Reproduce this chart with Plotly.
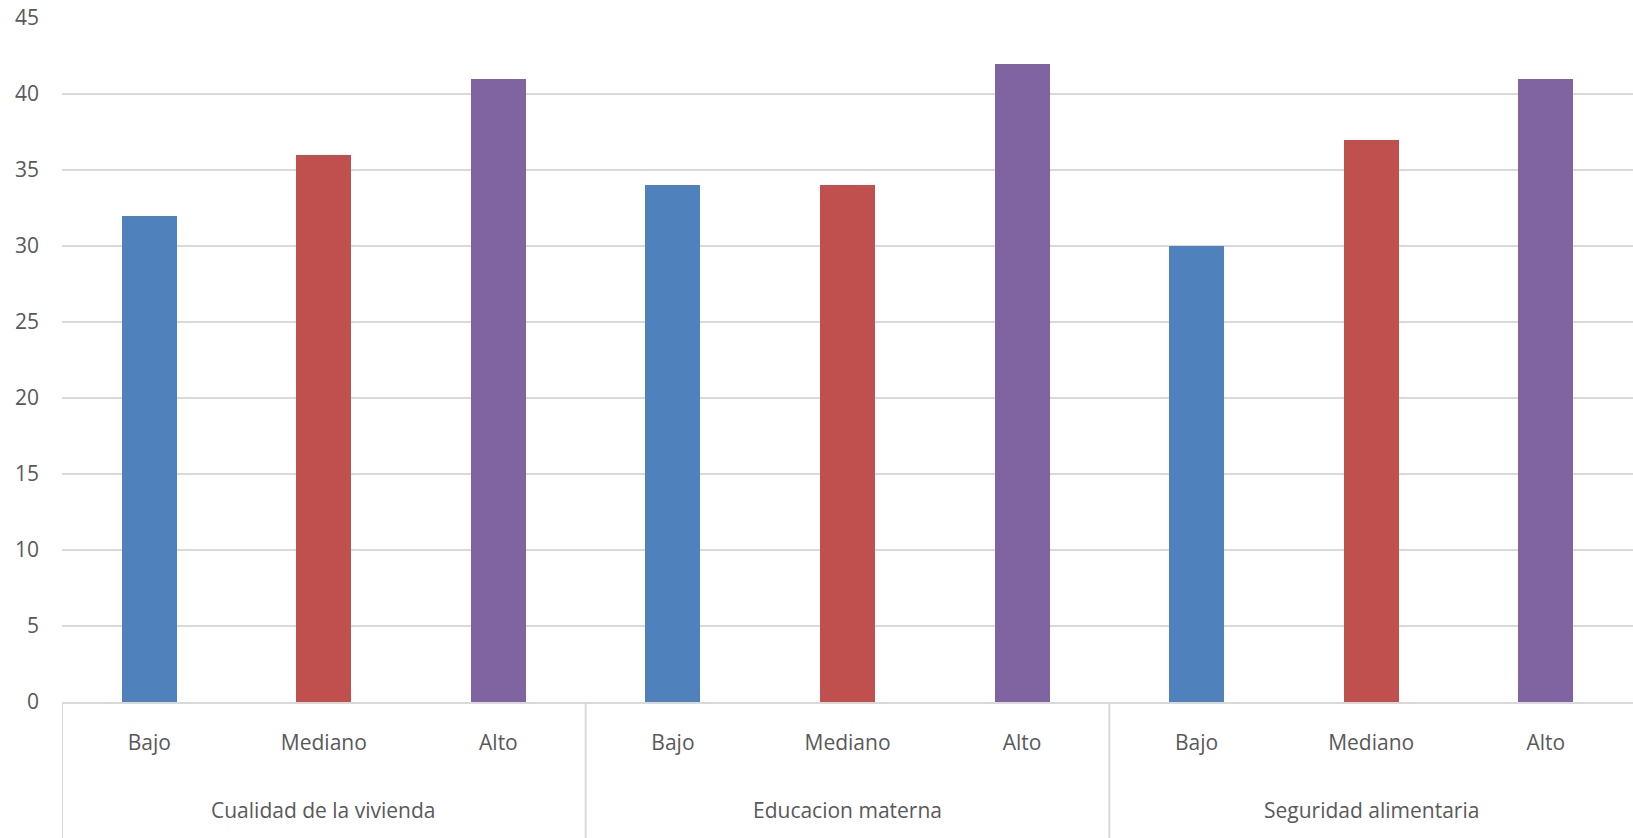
import plotly.graph_objects as go

groups = ["Cualidad de la vivienda", "Educacion materna", "Seguridad alimentaria"]
levels = ["Bajo", "Mediano", "Alto"]
values = [
    [32, 36, 41],
    [34, 34, 42],
    [30, 37, 41],
]
level_colors = {"Bajo": "#4F81BD", "Mediano": "#C0504D", "Alto": "#8064A2"}
y_ticks = [0, 5, 10, 15, 20, 25, 30, 35, 40, 45]

# flatten the grouped data into one slot per bar
x_pos, x_labels, y_vals, colors = [], [], [], []
for gi, row in enumerate(values):
    for li, v in enumerate(row):
        x_pos.append(gi * len(levels) + li)
        x_labels.append(levels[li])
        y_vals.append(v)
        colors.append(level_colors[levels[li]])

n_slots = len(x_pos)
fig = go.Figure(
    go.Bar(
        x=x_pos,
        y=y_vals,
        marker=dict(color=colors, line=dict(width=0)),
        width=0.315,
        showlegend=False,
    )
)

text_font = dict(family="Open Sans, Lato, sans-serif", size=21, color="#595959")
plot_h = 838 - 18 - 136

# group labels and separators beneath the category labels
for gi, g in enumerate(groups):
    center = gi * len(levels) + (len(levels) - 1) / 2
    fig.add_annotation(
        x=center, y=-108 / plot_h, xref="x", yref="paper",
        text=g, showarrow=False, font=text_font,
        xanchor="center", yanchor="middle",
    )
    left = gi * len(levels) - 0.5
    fig.add_shape(
        type="line", xref="x", yref="paper",
        x0=left, x1=left, y0=0, y1=-140 / plot_h,
        line=dict(color="#D9D9D9", width=2),
    )

fig.update_layout(
    width=1633,
    height=838,
    margin=dict(l=62, r=0, t=18, b=136),
    paper_bgcolor="white",
    plot_bgcolor="white",
    font=text_font,
    bargap=0,
)
fig.update_xaxes(
    range=[-0.5, n_slots - 0.5],
    tickvals=x_pos,
    ticktext=x_labels,
    showline=True,
    linecolor="#D9D9D9",
    linewidth=2,
    showgrid=False,
    zeroline=False,
    ticks="",
    ticklabelstandoff=21,
    tickfont=text_font,
)
fig.update_yaxes(
    range=[0, 45],
    tickvals=y_ticks,
    showgrid=True,
    gridcolor="#D9D9D9",
    gridwidth=1.5,
    zeroline=False,
    showline=False,
    ticks="",
    ticklabelstandoff=22,
    tickfont=text_font,
)

fig.write_html("out.html")
